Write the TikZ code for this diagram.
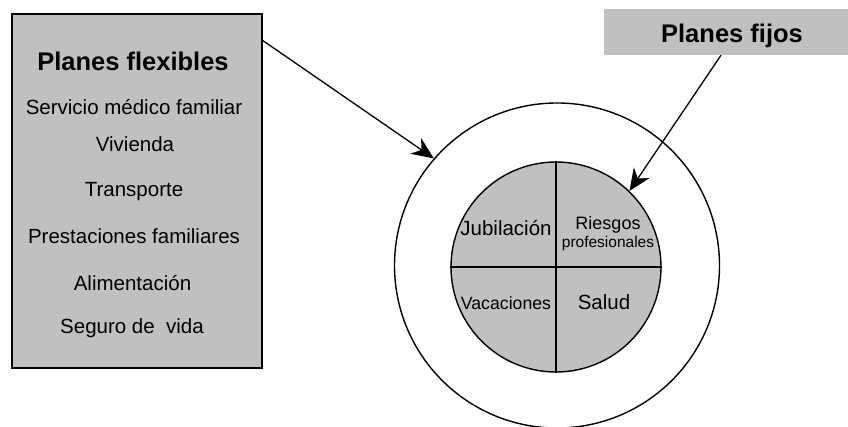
\documentclass[tikz,border=0pt]{standalone}
\usepackage{fontspec}
\setmainfont{Liberation Sans}
\usetikzlibrary{arrows.meta,calc}
\definecolor{boxgray}{HTML}{C0C0C0}
\begin{document}
\begin{tikzpicture}[x=1pt,y=-1pt,
  txt/.style={anchor=base,inner sep=0pt,font=\fontsize{20.5}{24}\selectfont},
  ttl/.style={anchor=base,inner sep=0pt,font=\fontsize{25.5}{30}\selectfont\bfseries},
  conn/.style={line width=1.3pt,-{Stealth[length=22pt,width=19pt,inset=7pt]}},
  lw/.style={line width=1.4pt}]
\useasboundingbox (0,0) rectangle (848,427);
% left box
\node[draw,lw,fill=boxgray,minimum width=250pt,minimum height=354pt,inner sep=0pt] (flex) at (137,191) {};
\node[ttl] (t0) at (133,70.5) {Planes flexibles};
\node[txt] (t1) at (134,115) {Servicio médico familiar};
\node[txt] (t2) at (135,151.5) {Vivienda};
\node[txt] (t3) at (134,196.5) {Transporte};
\node[txt] (t4) at (134,244) {Prestaciones familiares};
\node[txt] (t5) at (132.5,291) {Alimentación};
\node[txt] (t6) at (132,334) {Seguro de\ \ vida};
% planes fijos
\node[fill=boxgray,minimum width=244pt,minimum height=46pt,inner sep=0pt] (fijos) at (726,32) {};
\node[ttl] (tf) at (732,42.5) {Planes fijos};
% circles
\node[draw,lw,circle,minimum size=325pt,inner sep=0pt] (outer) at (557,265.5) {};
\node[draw,lw,circle,fill=boxgray,minimum size=210pt,inner sep=0pt] (inner) at (556,267) {};
\draw[lw] (inner.west) -- (inner.east);
\draw[lw] (inner.north) -- (inner.south);
\node[txt] (c1) at (506,236) {Jubilación};
\node[anchor=base,inner sep=0pt,font=\fontsize{18}{20}\selectfont] (c2) at (608,230) {Riesgos};
\node[anchor=base,inner sep=0pt,font=\fontsize{15.5}{18}\selectfont] (c3) at (608,248) {profesionales};
\node[anchor=base,inner sep=0pt,font=\fontsize{17.7}{20}\selectfont] (c4) at (506,310) {Vacaciones};
\node[txt] (c5) at (604,310) {Salud};
% arrows
\coordinate (a1) at (262,40);
\draw[conn] (a1) -- (outer.139);
\coordinate (a2) at ($(fijos.south)+(-5,0)$);
\draw[conn] (a2) -- (inner.46);
\end{tikzpicture}
\end{document}
